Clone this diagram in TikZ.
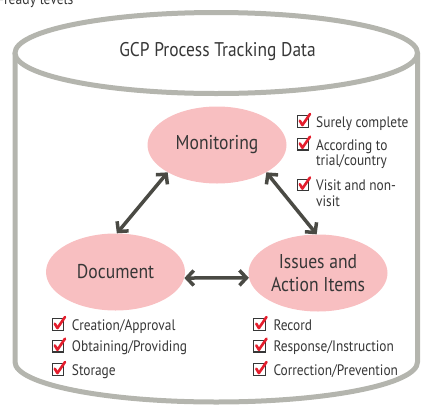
\documentclass[tikz,border=0pt]{standalone}
\usepackage{fontspec}
\setmainfont{PT Sans}[FakeStretch=0.88]
\usetikzlibrary{shapes.geometric,arrows.meta}
\definecolor{cylgray}{RGB}{180,181,174}
\definecolor{pinkfill}{RGB}{248,191,193}
\definecolor{arrowgray}{RGB}{74,74,68}
\definecolor{txtgray}{RGB}{55,55,55}
\definecolor{chkred}{RGB}{228,30,45}
\begin{document}
\begin{tikzpicture}[x=1pt,y=-1pt,
  cyl/.style={draw=cylgray,line width=5pt},
  bubble/.style={ellipse,fill=pinkfill,draw=none,inner sep=0pt,text=txtgray,
    minimum width=139pt,minimum height=77pt,align=center,
    font=\fontsize{20}{23.5}\selectfont},
  link/.style={draw=arrowgray,line width=3.5pt,
    {Straight Barb[length=7pt,width=15pt]}-{Straight Barb[length=7pt,width=15pt]}},
  item/.style={anchor=base west,inner sep=0pt,text=txtgray,font=\fontsize{15.2}{17}\selectfont},
  chk/.pic={
    \draw[txtgray,line width=1.3pt] (-5.8,-5.8) rectangle (5.8,5.8);
    \draw[chkred,line width=2.6pt,line join=round,line cap=round] (-3.2,-0.8) -- (-0.6,3.6) -- (7,-7.5);
  }]
\useasboundingbox (0,0) rectangle (421,408);
% top cut-off text
\node[anchor=base west,inner sep=0pt,text=txtgray,font=\fontsize{15.5}{17}\selectfont] (cut) at (-1,4) {-ready levels};
% cylinder
\draw[cyl] (15,53) -- (15,362) arc[start angle=180,end angle=0,x radius=201.25,y radius=40] -- (417.5,53);
\draw[cyl,fill=white] (216.25,53) ellipse[x radius=201.25,y radius=40.5];
\node[text=txtgray,inner sep=0pt,font=\fontsize{19.8}{22}\selectfont,anchor=base] (title) at (217.5,56.7) {GCP Process Tracking Data};
% bubbles
\node[bubble] (mon) at (217,145) {Monitoring};
\node[bubble] (doc) at (115.5,272) {Document};
\node[bubble] (iss) at (318,273) {Issues and\\Action Items};
% links
\draw[link] (mon.209) -- (doc.88);
\draw[link] (mon.331) -- (iss.92);
\draw[link] (doc.-5) -- (iss.184);
% monitoring list
\pic at (303,121.5) {chk};
\node[item] (m1) at (316,127.3) {Surely complete};
\pic at (303,144.2) {chk};
\node[item] (m2) at (316,150) {According to};
\node[item] (m2b) at (316,165.7) {trial/country};
\pic at (303,185) {chk};
\node[item] (m3) at (316,190.7) {Visit and non-};
\node[item] (m3b) at (316,206) {visit};
% document list
\pic at (58,324.5) {chk};
\node[item] (d1) at (71.7,330) {Creation/Approval};
\pic at (58,346.2) {chk};
\node[item] (d2) at (71.7,351.7) {Obtaining/Providing};
\pic at (58,369.5) {chk};
\node[item] (d3) at (71.7,375) {Storage};
% issues list
\pic at (259.5,324.5) {chk};
\node[item] (i1) at (273.3,330) {Record};
\pic at (259.5,346.2) {chk};
\node[item] (i2) at (273.3,351.7) {Response/Instruction};
\pic at (259.5,369.5) {chk};
\node[item] (i3) at (273.3,375) {Correction/Prevention};
\end{tikzpicture}
\end{document}
